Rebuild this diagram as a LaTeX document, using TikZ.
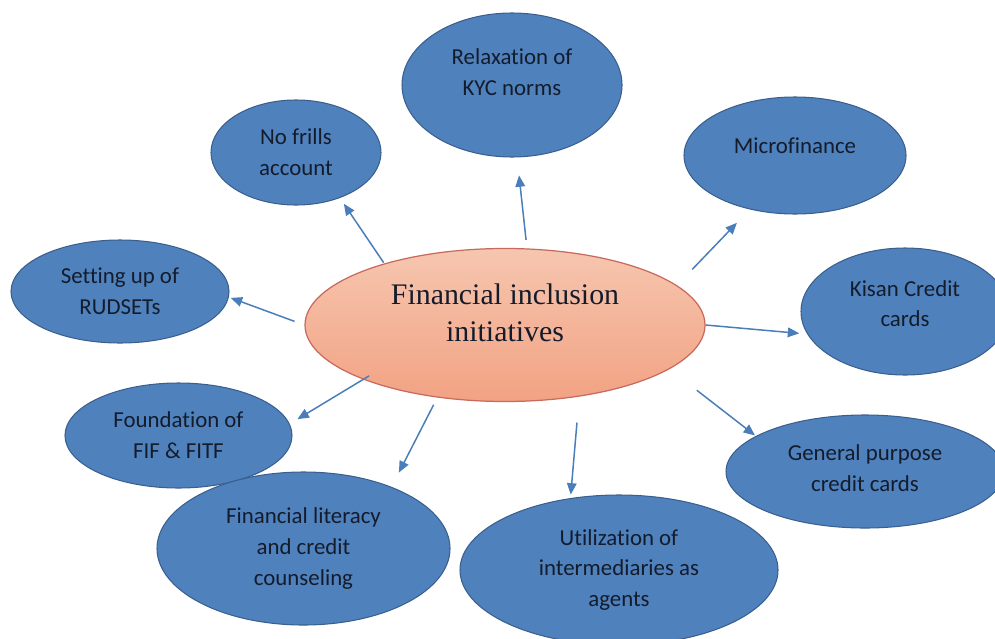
\documentclass[tikz,border=0pt]{standalone}
\usepackage{fontspec}
\setmainfont{Liberation Serif}
\newfontfamily\bubblefont[Ligatures=NoCommon]{Carlito}
\usetikzlibrary{shapes.geometric,arrows.meta}
\definecolor{bubblefill}{HTML}{4F81BD}
\definecolor{bubbleline}{HTML}{3A5F8E}
\definecolor{hubtop}{HTML}{F6C6AF}
\definecolor{hubbottom}{HTML}{F2A283}
\definecolor{hubline}{HTML}{C8695E}
\definecolor{linkblue}{HTML}{4A7EBB}
\definecolor{ink}{HTML}{141C2C}

\begin{document}
\begin{tikzpicture}[
    bubble/.style={shape=ellipse, fill=bubblefill, draw=bubbleline, line width=0.6pt,
      inner sep=0pt, align=center, text=ink, font=\bubblefont\fontsize{13}{17.6}\selectfont},
    hub/.style={shape=ellipse, top color=hubtop, bottom color=hubbottom, draw=hubline,
      line width=0.7pt, inner sep=0pt, align=center, text=ink, font=\fontsize{17}{21.5}\selectfont},
    link/.style={draw=linkblue, line width=0.85pt, -{Triangle[length=6.5pt,width=5.5pt]}}
  ]
    \useasboundingbox (0,0) rectangle (19.9,-12.76);

    \node at (10.10,  -6.50) (hub) [hub, minimum width=8cm, minimum height=3.06cm, text depth=14.2pt] {Financial inclusion\\initiatives};

    % the initiatives round the hub
    \node at (10.24,  -1.70) (kyc) [bubble, minimum width=4.4cm, minimum height=2.88cm, text depth=14.2pt] {Relaxation of\\KYC norms};
    \node at (5.92,  -3.05) (frills) [bubble, minimum width=3.4cm, minimum height=2.1cm] {No frills\\account};
    \node at (15.90,  -3.11) (micro) [bubble, minimum width=4.44cm, minimum height=2.34cm, text depth=10.8pt] {Microfinance};
    \node at (2.40,  -5.83) (rudset) [bubble, minimum width=4.36cm, minimum height=2.06cm] {Setting up of\\RUDSETs};
    \node at (18.10,  -6.23) (kisan) [bubble, minimum width=4.16cm, minimum height=2.54cm, text depth=9pt] {Kisan Credit\\cards};
    \node at (3.57,  -8.71) (fif) [bubble, minimum width=4.54cm, minimum height=2.1cm] {Foundation of\\FIF \& FITF};
    \node at (17.30,  -9.43) (general) [bubble, minimum width=5.56cm, minimum height=2.26cm, text depth=3.4pt] {General purpose\\credit cards};
    \node at (6.07, -10.97) (literacy) [bubble, minimum width=5.86cm, minimum height=3.06cm] {Financial literacy\\and credit\\counseling};
    \node at (12.38, -11.40) (util) [bubble, minimum width=6.36cm, minimum height=3.0cm] {Utilization of\\intermediaries as\\agents};

    % arrows out of the hub
    \draw[link, shorten <=0.17cm, shorten >=0.36cm] (hub.74.7) -- (kyc.-86.8);
    \draw[link, shorten <=0.02cm, shorten >=0.14cm] (hub.153.3) -- (frills.-46.3);
    \draw[link, shorten <=0.44cm, shorten >=0.37cm] (hub.13.9) -- (micro.-130.2);
    \draw[link, shorten <=0.21cm, shorten >=0.04cm] (hub.180) -- (rudset.-3.3);
    \draw[link, shorten >=0.16cm] (hub.-0.3) -- (kisan.193.1);
    \draw[link, shorten <=-0.14cm, shorten >=0.18cm] (hub.201.1) -- (fif.6.5);
    \draw[link, shorten <=0.69cm, shorten >=0.02cm] (hub.-15.4) -- (general.162.8);
    \draw[link, shorten <=0.16cm, shorten >=0.32cm] (hub.227.8) -- (literacy.35.4);
    \draw[link, shorten <=0.52cm, shorten >=0.07cm] (hub.-44.6) -- (util.124.6);
  \end{tikzpicture}
\end{document}
